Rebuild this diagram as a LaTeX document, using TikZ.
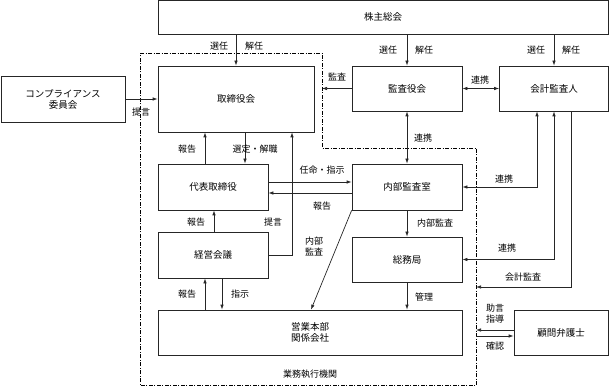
\documentclass[tikz,border=0pt]{standalone}
\usepackage{fontspec}
\setmainfont{Liberation Serif}
\newfontfamily\jp{Noto Sans CJK JP}
\usetikzlibrary{arrows.meta}
\begin{document}
\begin{tikzpicture}[x=1pt,y=-1pt,
  font=\jp\fontsize{9.5}{11}\selectfont,
  box/.style={draw=black!85,line width=0.7pt,rectangle,inner sep=0pt,align=center},
  lbl/.style={inner sep=0pt,align=center,font=\jp\fontsize{9}{11}\selectfont},
  conn/.style={line width=0.7pt,draw=black!85},
  arr/.style={conn,-{Latex[length=5pt,width=3.5pt]}},
  biarr/.style={conn,{Latex[length=5pt,width=3.5pt]}-{Latex[length=5pt,width=3.5pt]}},
  bound/.style={line width=0.6pt,dash pattern=on 4pt off 1.5pt on 1pt off 1.5pt}
]
\useasboundingbox (0,0) rectangle (610,387);
% boundary
\draw[bound] (140,53) -- (322,53) -- (322,148) -- (476,148) -- (476,385.5) -- (140,385.5) -- cycle;
\coordinate (bdA) at (322,88.5);
\coordinate (bdB) at (476,287);
\node[lbl] (gyomu) at (310,374) {業務執行機関};

% boxes
\node[box,minimum width=450pt,minimum height=33.5pt] (kabu) at (383,17.25) {株主総会};
\node[box,minimum width=124pt,minimum height=46pt] (comp) at (63,99) {コンプライアンス\\委員会};
\node[box,minimum width=156pt,minimum height=66pt] (tori) at (236,99) {取締役会};
\node[box,minimum width=110pt,minimum height=45pt] (kansa) at (407,88.5) {監査役会};
\node[box,minimum width=109pt,minimum height=45pt] (kaikei) at (554,88.5) {会計監査人};
\node[box,minimum width=110pt,minimum height=46pt] (daihyo) at (213,187) {代表取締役};
\node[box,minimum width=110pt,minimum height=46pt] (keiei) at (213,255) {経営会議};
\node[box,minimum width=110pt,minimum height=46pt] (naibu) at (407,187) {内部監査室};
\node[box,minimum width=110pt,minimum height=45pt] (soumu) at (407,259.5) {総務局};
\node[box,minimum width=304pt,minimum height=45pt] (eigyo) at (310,332.5) {営業本部\\関係会社};
\node[box,minimum width=94pt,minimum height=45pt] (komon) at (561,332.5) {顧問弁護士};

% connectors
\draw[arr] (tori.north |- kabu.south) -- (tori.north);
\draw[arr] (kansa.north |- kabu.south) -- (kansa.north);
\draw[arr] (kaikei.north |- kabu.south) -- (kaikei.north);
\draw[arr] (comp.east) -- (tori.west);
\draw[arr] (kansa.west) -- (bdA);
\draw[biarr] (kansa.east) -- (kaikei.west);
\draw[biarr] (kansa.south) -- (naibu.north);
\draw[arr] ([xshift=-8pt]daihyo.north) -- ([xshift=-8pt]daihyo.north |- tori.south);
\draw[arr] ([xshift=9pt]tori.south) -- ([xshift=9pt]tori.south |- daihyo.north);
\draw[arr] (keiei.east) -| ([xshift=56pt]tori.south);
\draw[arr] ([yshift=5pt]daihyo.east) -- ([yshift=5pt]daihyo.east -| naibu.west);
\draw[arr] ([yshift=-6pt]naibu.west) -- ([yshift=-6pt]naibu.west -| daihyo.east);
\draw[arr] ([xshift=1pt]keiei.north) -- ([xshift=1pt]daihyo.south);
\draw[arr] ([xshift=-8pt]keiei.south |- eigyo.north) -- ([xshift=-8pt]keiei.south);
\draw[arr] ([xshift=9pt]keiei.south) -- ([xshift=9pt]keiei.south |- eigyo.north);
\draw[arr] (naibu.south west) -- ([xshift=1pt]eigyo.north);
\draw[arr] (naibu.south) -- (soumu.north);
\draw[arr] (soumu.south) -- (soumu.south |- eigyo.north);
\draw[biarr] ([xshift=-17pt]kaikei.south) |- (naibu.east);
\draw[biarr] (kaikei.south) |- (soumu.east);
\draw[arr] ([xshift=17pt]kaikei.south) |- (bdB);
\draw[arr] ([yshift=2.5pt]komon.west) -- ([yshift=2.5pt]komon.west -| bdB);
\draw[arr] ([yshift=-3.5pt]komon.west -| bdB) -- ([yshift=-3.5pt]komon.west);

% labels
\node[lbl] (l1) at (219,46) {選任};
\node[lbl] (l2) at (254,46) {解任};
\node[lbl] (l3) at (388,50) {選任};
\node[lbl] (l4) at (424,50) {解任};
\node[lbl] (l5) at (536,50) {選任};
\node[lbl] (l6) at (571,50) {解任};
\node[lbl] (l7) at (141,112) {提言};
\node[lbl] (l8) at (337,77) {監査};
\node[lbl] (l9) at (480,80) {連携};
\node[lbl] (l10) at (423,138) {連携};
\node[lbl] (l11) at (187,149) {報告};
\node[lbl] (l12) at (255,149) {選定・解職};
\node[lbl] (l13) at (322,170) {任命・指示};
\node[lbl] (l14) at (322,206) {報告};
\node[lbl] (l15) at (273,222) {提言};
\node[lbl] (l16) at (196,222) {報告};
\node[lbl] (l17) at (314,246) {内部\\監査};
\node[lbl] (l18) at (435,223) {内部監査};
\node[lbl] (l19) at (187,294) {報告};
\node[lbl] (l20) at (240,294) {指示};
\node[lbl] (l21) at (424,297) {管理};
\node[lbl] (l22) at (504,179) {連携};
\node[lbl] (l23) at (507,248) {連携};
\node[lbl] (l24) at (523,277) {会計監査};
\node[lbl] (l25) at (495,314) {助言\\指導};
\node[lbl] (l26) at (495,346) {確認};
\end{tikzpicture}
\end{document}
